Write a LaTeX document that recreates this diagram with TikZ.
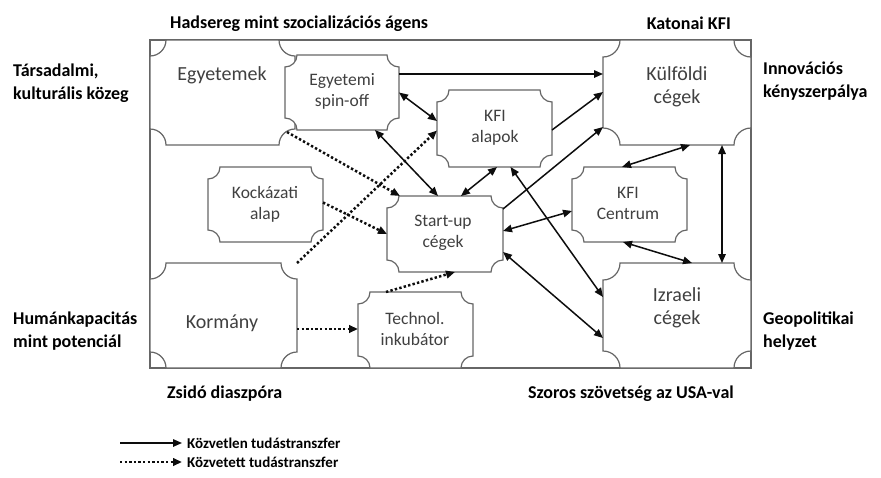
\documentclass[tikz,border=0pt]{standalone}
\usepackage{fontspec}
\setmainfont{Carlito}
\usetikzlibrary{arrows.meta,calc}
\newcommand\plaqueof[2]{%
  \draw[pline] ($(#1.north west)+(#2,0)$) -- ($(#1.north east)+(-#2,0)$)
    .. controls ($(#1.north east)+(-#2,0.5523*#2)$) and ($(#1.north east)+(-0.5523*#2,#2)$) .. ($(#1.north east)+(0,#2)$)
    -- ($(#1.south east)+(0,-#2)$)
    .. controls ($(#1.south east)+(-0.5523*#2,-#2)$) and ($(#1.south east)+(-#2,-0.5523*#2)$) .. ($(#1.south east)+(-#2,0)$)
    -- ($(#1.south west)+(#2,0)$)
    .. controls ($(#1.south west)+(#2,-0.5523*#2)$) and ($(#1.south west)+(0.5523*#2,-#2)$) .. ($(#1.south west)+(0,-#2)$)
    -- ($(#1.north west)+(0,#2)$)
    .. controls ($(#1.north west)+(0.5523*#2,#2)$) and ($(#1.north west)+(#2,0.5523*#2)$) .. cycle;}
\begin{document}
\begin{tikzpicture}[x=1pt,y=-1pt,
  area/.style={inner sep=0pt,outer sep=0pt,draw=none},
  pline/.style={draw=black!60,line width=1.2pt,fill=white},
  conn/.style={draw=black!95,line width=1.5pt},
  tipx/.tip={Triangle[length=9pt,width=7.5pt]},
  dir/.style={conn,-tipx},
  bidir/.style={conn,tipx-tipx},
  dotarr/.style={conn,line width=2.5pt,dash pattern=on 2.4pt off 2.2pt,-tipx},
  big/.style={text=black!75,font=\fontsize{20}{23}\selectfont,align=center,inner sep=0pt},
  small/.style={text=black!75,font=\fontsize{17.5}{21}\selectfont,align=center,inner sep=0pt},
  outer/.style={font=\bfseries\fontsize{18}{23}\selectfont,inner sep=0pt},
  legend/.style={font=\bfseries\fontsize{15}{16}\selectfont,inner sep=0pt}]
\useasboundingbox (0,0) rectangle (881,477);
% frame
\node[area,draw=black!60,line width=1.2pt,minimum width=601pt,minimum height=328pt] (frame) at (450.5,204) {};
% boxes
\node[area,minimum width=145pt,minimum height=105pt] (egy) at (222.5,92.5) {};
\node[area,minimum width=148pt,minimum height=105pt] (kulf) at (677,92.5) {};
\node[area,minimum width=147pt,minimum height=105pt] (korm) at (223.5,315.5) {};
\node[area,minimum width=148pt,minimum height=105pt] (izr) at (677,315.5) {};
\node[area,minimum width=115pt,minimum height=75pt] (kock) at (265.5,204.5) {};
\node[area,minimum width=115pt,minimum height=75pt] (centr) at (629.5,204.5) {};
\node[area,minimum width=115pt,minimum height=77pt] (kfia) at (494.5,128.5) {};
\node[area,minimum width=116pt,minimum height=76pt] (start) at (445,234) {};
\node[area,minimum width=115pt,minimum height=76pt] (tech) at (415.5,330) {};
\node[area,minimum width=114pt,minimum height=75pt] (spin) at (342,92.5) {};
\plaqueof{egy}{16}
\plaqueof{kulf}{17}
\plaqueof{korm}{16}
\plaqueof{izr}{17}
\plaqueof{kock}{12}
\plaqueof{centr}{12}
\plaqueof{kfia}{12}
\plaqueof{start}{12}
\plaqueof{tech}{12}
\plaqueof{spin}{12}
% connectors
\draw[dir] ($(spin.east)+(0,-18.5)$) -- ($(kulf.west)+(0,-18.5)$);
\draw[bidir] (spin.east) -- ($(kfia.west)+(0,-7.5)$);
\draw[bidir] ($(spin.south)+(33,0)$) -- ($(start.north)+(-7,0)$);
\draw[dotarr] ($(egy.south east)+(-8,-13)$) -- ($(start.north west)+(13,0)$);
\draw[dotarr] (korm.north east) -- ($(kfia.west)+(0,2)$);
\draw[dotarr] ($(kock.east)+(0,-2)$) -- (start.west);
\draw[dotarr] ($(korm.east)+(0,13.5)$) -- ($(tech.west)+(0,-1)$);
\draw[dotarr] ($(tech.north west)+(28,0)$) -- ($(start.south)+(10,0)$);
\draw[bidir] ($(start.north)+(16,0)$) -- ($(kfia.south)+(2.5,0)$);
\draw[dir] ($(kfia.east)+(0,1.5)$) -- ($(kulf.west)+(0,-0.5)$);
\draw[dir] ($(start.north east)+(0,13)$) -- ($(kulf.west)+(0,34.5)$);
\draw[bidir] ($(kfia.south)+(16,0)$) -- ($(izr.west)+(0,-18.5)$);
\draw[bidir] ($(start.east)+(0,-3)$) -- ($(centr.west)+(0,6.5)$);
\draw[bidir] ($(start.east)+(0,18)$) -- ($(izr.west)+(0,22.5)$);
\draw[bidir] ($(kulf.south)+(13,0)$) -- ($(centr.north)+(-7.5,0)$);
\draw[bidir] ($(centr.south)+(-6.5,0)$) -- ($(izr.north)+(15,0)$);
\draw[bidir] ($(kulf.south)+(45,0)$) -- ($(izr.north)+(45,0)$);
% box labels (multi-line: anchor base = last line's baseline)
\node[big,anchor=base] (egyT) at (222,80) {Egyetemek};
\node[small,anchor=base] (spinT) at (342,106) {Egyetemi\\spin-off};
\node[small,anchor=base] (kfiaT) at (495,142) {KFI\\alapok};
\node[big,anchor=base] (kulfT) at (677,103) {Külföldi\\cégek};
\node[small,anchor=base] (kockT) at (265,219) {Kockázati\\alap};
\node[small,anchor=base] (startT) at (443,247) {Start-up\\cégek};
\node[small,anchor=base] (centrT) at (628,219) {KFI\\Centrum};
\node[big,anchor=base] (kormT) at (222,328) {Kormány};
\node[small,anchor=base] (techT) at (415,345) {Technol.\\inkubátor};
\node[big,anchor=base] (izrT) at (677,324) {Izraeli\\cégek};
% outer labels
\node[outer,anchor=base west] (had) at (170,28) {Hadsereg mint szocializációs ágens};
\node[outer,anchor=base east] (kat) at (731,29) {Katonai KFI};
\node[outer,anchor=base west,align=left] (tars) at (13,99) {Társadalmi,\\kulturális közeg};
\node[outer,anchor=base west,align=left] (inno) at (763,97) {Innovációs\\kényszerpálya};
\node[outer,anchor=base west,align=left] (hum) at (13,347) {Humánkapacitás\\mint potenciál};
\node[outer,anchor=base west,align=left] (geo) at (763,347) {Geopolitikai\\helyzet};
\node[outer,anchor=base west] (zsi) at (167,398) {Zsidó diaszpóra};
\node[outer,anchor=base east] (usa) at (734,398) {Szoros szövetség az USA-val};
% legend
\coordinate (l1a) at (120,443);
\coordinate (l1b) at (182,443);
\coordinate (l2a) at (120,462);
\coordinate (l2b) at (182,462);
\draw[dir] (l1a) -- (l1b);
\draw[dotarr] (l2a) -- (l2b);
\node[legend,anchor=west] (l1t) at (187,443) {Közvetlen tudástranszfer};
\node[legend,anchor=west] (l2t) at (187,462) {Közvetett tudástranszfer};
\end{tikzpicture}
\end{document}
